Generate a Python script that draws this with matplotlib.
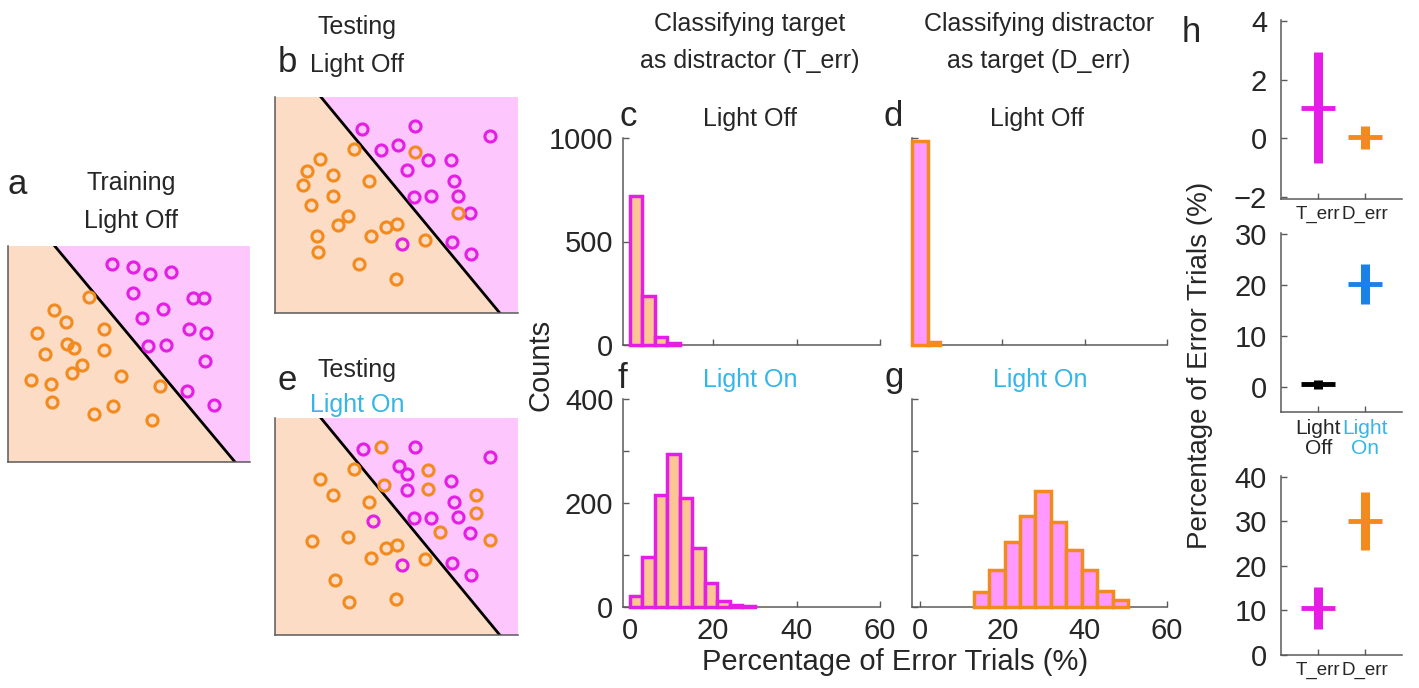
import numpy as np
import matplotlib.pyplot as plt
from matplotlib.transforms import ScaledTranslation

plt.rcParams['font.family'] = ['Liberation Sans', 'DejaVu Sans']

W, H = 1419, 688

ORANGE = '#F28A1E'
MAGENTA = '#E41EE4'
PEACH_BG = '#FCDCC4'
PINK_BG = '#FDC6FD'
HIST_PEACH = '#FCC594'
HIST_PINK = '#FF99FF'
CYAN = '#35B6E6'
BLUE = '#1A82E6'
TEXT = '#262626'
AXIS = '#5A5A5A'

# ---- scatter panels (feature space 0..10) ----
# decision boundary: x where it meets the top (y=10) and the bottom (y=0)
boundary_top = [1.93, 1.89, 1.89]
boundary_bottom = [9.38, 9.25, 9.25]

train_mag_x = [4.28, 5.17, 5.86, 6.72, 5.17, 7.63, 8.10, 6.39, 5.54, 7.49, 8.18, 5.79, 6.51, 8.12, 7.41, 8.51]
train_mag_y = [9.16, 9.04, 8.69, 8.78, 7.83, 7.60, 7.60, 7.08, 6.65, 6.14, 5.98, 5.36, 5.41, 4.68, 3.28, 2.66]
train_org_x = [3.35, 1.89, 2.41, 1.21, 3.96, 2.44, 2.72, 1.54, 3.97, 3.06, 2.65, 0.97, 1.79, 4.65, 6.30, 1.83, 4.32, 3.56, 5.97]
train_org_y = [7.62, 7.06, 6.48, 5.98, 6.14, 5.46, 5.26, 5.02, 5.18, 4.48, 4.10, 3.79, 3.59, 4.00, 3.51, 2.78, 2.60, 2.24, 1.93]

off_mag_x = [3.60, 5.75, 8.84, 4.36, 5.07, 6.30, 7.26, 5.45, 7.37, 7.53, 5.71, 6.41, 8.01, 5.21, 7.29, 8.05]
off_mag_y = [8.50, 8.64, 8.19, 7.56, 7.79, 7.07, 7.07, 6.64, 6.11, 5.40, 5.37, 5.40, 4.63, 3.21, 3.29, 2.72]
off_org_x = [3.26, 1.85, 1.30, 2.37, 1.14, 3.88, 5.78, 2.37, 1.48, 2.99, 2.58, 7.53, 5.00, 4.55, 3.95, 1.71, 6.19, 1.78, 3.47, 4.97]
off_org_y = [7.58, 7.15, 6.56, 6.40, 5.94, 6.11, 7.45, 5.40, 4.98, 4.48, 4.06, 4.63, 4.10, 3.98, 3.55, 3.55, 3.40, 2.82, 2.28, 1.59]

on_mag_x = [3.63, 5.75, 8.84, 5.10, 5.44, 7.26, 5.45, 7.37, 7.53, 5.71, 6.41, 4.04, 8.01, 5.21, 7.29, 8.05]
on_mag_y = [8.56, 8.67, 8.21, 7.79, 7.44, 7.09, 6.67, 6.13, 5.44, 5.37, 5.40, 5.26, 4.72, 3.22, 3.34, 2.76]
on_org_x = [4.38, 3.26, 1.85, 6.30, 4.49, 6.30, 2.37, 3.88, 8.29, 8.29, 6.78, 1.51, 2.99, 8.86, 5.00, 4.55, 3.95, 6.19, 2.47, 3.05, 4.97]
on_org_y = [8.67, 7.64, 7.18, 7.59, 6.93, 6.72, 6.44, 6.13, 6.44, 5.60, 4.75, 4.34, 4.52, 4.37, 4.14, 3.99, 3.57, 3.48, 2.53, 1.50, 1.66]

# ---- histograms (percentage of error trials) ----
c_edges = [0, 3, 6, 9, 12]
c_counts = [722, 235, 37, 8]
d_edges = [-1.9, 1.8, 4.8]
d_counts = [985, 15]
f_edges = [0, 3, 6, 9, 12, 15, 18, 21, 24, 27, 30]
f_counts = [22, 96, 215, 294, 209, 114, 46, 12, 3, 2]
g_edges = [13.0, 16.75, 20.5, 24.25, 28.0, 31.75, 35.5, 39.25, 43.0, 46.75, 50.5]
g_counts = [28, 72, 125, 175, 224, 164, 109, 72, 31, 13]

# ---- panel h summaries ----
h1_labels = ['T_err', 'D_err']
h1_mean = [1.05, 0.03]
h1_lo = [-0.84, -0.37]
h1_hi = [2.95, 0.42]
h2_labels = ['Light\nOff', 'Light\nOn']
h2_mean = [0.47, 20.2]
h2_lo = [-0.5, 16.2]
h2_hi = [1.3, 24.1]
h3_labels = ['T_err', 'D_err']
h3_mean = [10.5, 30.0]
h3_lo = [5.8, 23.5]
h3_hi = [15.2, 36.5]

fig = plt.figure(figsize=(W / 100, H / 100), dpi=100)


def add_ax(l, t, r, b):
    return fig.add_axes([l / W, 1 - b / H, (r - l) / W, (b - t) / H])


def ftext(x, y, s, **kw):
    kw.setdefault('color', TEXT)
    fig.text(x / W, 1 - y / H, s, ha='center', va='center', **kw)


def style(ax):
    for s in ['top', 'right']:
        ax.spines[s].set_visible(False)
    for s in ['left', 'bottom']:
        ax.spines[s].set_color(AXIS)
        ax.spines[s].set_linewidth(1.1)
    ax.tick_params(direction='in', color=AXIS, labelcolor=TEXT, length=4, width=1)


def scatter_panel(rect, i, mx, my, ox, oy):
    ax = add_ax(*rect)
    style(ax)
    ax.set_xlim(0, 10)
    ax.set_ylim(0, 10)
    ax.set_xticks([])
    ax.set_yticks([])
    top, bot = boundary_top[i], boundary_bottom[i]
    ax.fill([0, 0, top, bot], [0, 10, 10, 0], color=PEACH_BG, lw=0)
    ax.fill([top, 10, 10, bot], [10, 10, 0, 0], color=PINK_BG, lw=0)
    ax.plot([top, bot], [10, 0], color='k', lw=2)
    ax.plot(mx, my, 'o', mfc='none', mec=MAGENTA, ms=8, mew=2.2)
    ax.plot(ox, oy, 'o', mfc='none', mec=ORANGE, ms=8, mew=2.2)


scatter_panel((8, 246, 250, 462), 0, train_mag_x, train_mag_y, train_org_x, train_org_y)
scatter_panel((275, 97, 518, 313), 1, off_mag_x, off_mag_y, off_org_x, off_org_y)
scatter_panel((275, 418, 518, 635), 2, on_mag_x, on_mag_y, on_org_x, on_org_y)


def hist_panel(rect, edges, counts, fill, edge, xlim, ylim, yticks, ylabels, xlabels):
    ax = add_ax(*rect)
    style(ax)
    edges = np.array(edges)
    ax.bar(edges[:-1], counts, width=np.diff(edges), align='edge', color=fill,
           edgecolor=edge, linewidth=2.5, clip_on=False, zorder=3)
    ax.set_xlim(*xlim)
    ax.set_ylim(*ylim)
    ax.set_xticks([0, 20, 40, 60])
    if xlabels:
        ax.set_xticklabels(['0', '20', '40', '60'])
    else:
        ax.set_xticklabels([])
    ax.set_yticks(yticks)
    ax.set_yticklabels(ylabels)
    ax.tick_params(labelsize=21, pad=7)
    return ax


hist_panel((623, 138, 880, 345), c_edges, c_counts, HIST_PEACH, MAGENTA, (-1.6, 60), (0, 1000),
           [0, 500, 1000], ['0', '500', '1000'], False)
hist_panel((623, 399, 880, 607), f_edges, f_counts, HIST_PEACH, MAGENTA, (-1.6, 60), (0, 400),
           [0, 100, 200, 300, 400], ['0', '', '200', '', '400'], True)
hist_panel((912, 138, 1167, 345), d_edges, d_counts, HIST_PINK, ORANGE, (-2, 60), (0, 1000),
           [0, 500, 1000], ['', '', ''], False)
hist_panel((912, 399, 1167, 607), g_edges, g_counts, HIST_PINK, ORANGE, (-2, 60), (0, 400),
           [0, 100, 200, 300, 400], ['', '', '', '', ''], True)


def summary_panel(rect, labels, mean, lo, hi, colors, ylim, yticks, label_colors, fs):
    ax = add_ax(*rect)
    style(ax)
    x = np.arange(1, len(mean) + 1)
    ax.vlines(x, lo, hi, colors=colors, lw=6.5)
    ax.hlines(mean, x - 0.36, x + 0.36, colors=colors, lw=3.5)
    ax.set_xlim(0.2, 2.8)
    ax.set_ylim(*ylim)
    ax.set_xticks(x)
    ax.set_xticklabels(labels, fontsize=fs, linespacing=1.05)
    # labels sit slightly off their ticks in the original figure
    for t, c, dx in zip(ax.get_xticklabels(), label_colors, [-4, 9]):
        t.set_color(c)
        t.set_transform(t.get_transform() + ScaledTranslation(dx / 72, 0, fig.dpi_scale_trans))
    ax.set_yticks(yticks)
    ax.tick_params(axis='y', labelsize=21, pad=10)
    ax.tick_params(axis='x', pad=5)
    return ax


summary_panel((1281, 20, 1402, 199), h1_labels, h1_mean, h1_lo, h1_hi, [MAGENTA, ORANGE],
              (-2.08, 4.05), [-2, 0, 2, 4], [TEXT, TEXT], 13.5)
summary_panel((1281, 233, 1402, 412), h2_labels, h2_mean, h2_lo, h2_hi, ['black', BLUE],
              (-5, 30.2), [0, 10, 20, 30], [TEXT, CYAN], 15)
summary_panel((1281, 476, 1402, 655), h3_labels, h3_mean, h3_lo, h3_hi, [MAGENTA, ORANGE],
              (0, 40.2), [0, 10, 20, 30, 40], [TEXT, TEXT], 13.5)

# titles
ftext(131, 183, 'Training', fontsize=18)
ftext(131, 221, 'Light Off', fontsize=18)
ftext(357, 27, 'Testing', fontsize=18)
ftext(357, 65, 'Light Off', fontsize=18)
ftext(357, 370, 'Testing', fontsize=18)
ftext(357, 405, 'Light On', fontsize=18, color=CYAN)
ftext(750, 24, 'Classifying target', fontsize=18)
ftext(750, 61, 'as distractor (T_err)', fontsize=18)
ftext(1039, 24, 'Classifying distractor', fontsize=18)
ftext(1039, 61, 'as target (D_err)', fontsize=18)
ftext(750, 119, 'Light Off', fontsize=18)
ftext(1037, 119, 'Light Off', fontsize=18)
ftext(750, 380, 'Light On', fontsize=18, color=CYAN)
ftext(1040, 380, 'Light On', fontsize=18, color=CYAN)

# panel letters
ftext(17, 185, 'a', fontsize=25)
ftext(287, 63, 'b', fontsize=25)
ftext(628, 117, 'c', fontsize=25)
ftext(893, 117, 'd', fontsize=25)
ftext(287, 381, 'e', fontsize=25)
ftext(622, 378, 'f', fontsize=25)
ftext(894, 378, 'g', fontsize=25)
ftext(1191, 32, 'h', fontsize=25)

# axis labels
ftext(541, 365, 'Counts', fontsize=21, rotation=90)
ftext(895, 662, 'Percentage of Error Trials (%)', fontsize=21)
ftext(1200, 365, 'Percentage of Error Trials (%)', fontsize=20, rotation=90)

fig.savefig('out.png', dpi=100)
